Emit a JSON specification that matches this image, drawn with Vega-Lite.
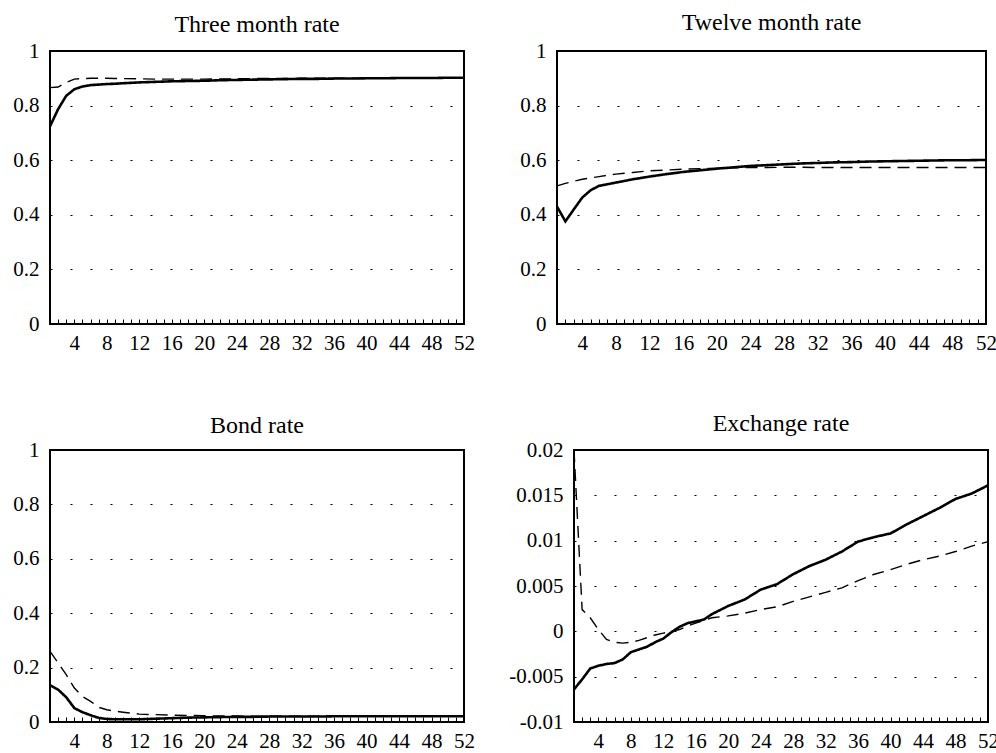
{
  "$schema": "https://vega.github.io/schema/vega-lite/v6.json",
  "padding": {"left": 11, "top": 10, "right": 0, "bottom": 0},
  "background": "white",
  "config": {
    "font": "Liberation Serif",
    "view": {"stroke": "black", "strokeWidth": 2},
    "axis": {"domain": false, "labelFont": "Liberation Serif", "labelFontSize": 21, "labelColor": "black", "labelFlush": false, "labelOverlap": false},
    "axisX": {"grid": false, "offset": -5, "tickSize": 5, "tickColor": "black", "tickWidth": 1, "labelPadding": 8, "zindex": 2},
    "axisY": {"ticks": false, "grid": true, "gridColor": "black", "gridDash": [2, 18], "gridWidth": 1, "labelPadding": 11},
    "title": {"font": "Liberation Serif", "fontSize": 24, "fontWeight": "normal", "color": "black", "frame": "group", "baseline": "alphabetic", "offset": 4}
  },
  "datasets": {
    "p1": [
      {"h": 1, "solid": 0.724, "dashed": 0.866},
      {"h": 2, "solid": 0.787, "dashed": 0.868},
      {"h": 3, "solid": 0.836, "dashed": 0.885},
      {"h": 4, "solid": 0.860, "dashed": 0.897},
      {"h": 5, "solid": 0.870, "dashed": 0.899},
      {"h": 6, "solid": 0.875, "dashed": 0.900},
      {"h": 7, "solid": 0.877, "dashed": 0.900},
      {"h": 8, "solid": 0.879, "dashed": 0.900},
      {"h": 9, "solid": 0.880, "dashed": 0.899},
      {"h": 10, "solid": 0.882, "dashed": 0.899},
      {"h": 12, "solid": 0.885, "dashed": 0.898},
      {"h": 14, "solid": 0.887, "dashed": 0.897},
      {"h": 16, "solid": 0.889, "dashed": 0.897},
      {"h": 18, "solid": 0.890, "dashed": 0.897},
      {"h": 20, "solid": 0.891, "dashed": 0.897},
      {"h": 22, "solid": 0.893, "dashed": 0.898},
      {"h": 24, "solid": 0.894, "dashed": 0.898},
      {"h": 26, "solid": 0.895, "dashed": 0.899},
      {"h": 28, "solid": 0.896, "dashed": 0.899},
      {"h": 30, "solid": 0.897, "dashed": 0.899},
      {"h": 32, "solid": 0.898, "dashed": 0.900},
      {"h": 34, "solid": 0.898, "dashed": 0.900},
      {"h": 36, "solid": 0.899, "dashed": 0.900},
      {"h": 38, "solid": 0.899, "dashed": 0.900},
      {"h": 40, "solid": 0.900, "dashed": 0.900},
      {"h": 42, "solid": 0.900, "dashed": 0.900},
      {"h": 44, "solid": 0.901, "dashed": 0.901},
      {"h": 46, "solid": 0.901, "dashed": 0.901},
      {"h": 48, "solid": 0.901, "dashed": 0.901},
      {"h": 50, "solid": 0.902, "dashed": 0.901},
      {"h": 52, "solid": 0.902, "dashed": 0.901}
    ],
    "p2": [
      {"h": 1, "solid": 0.430, "dashed": 0.506},
      {"h": 2, "solid": 0.376, "dashed": 0.515},
      {"h": 3, "solid": 0.420, "dashed": 0.523},
      {"h": 4, "solid": 0.463, "dashed": 0.530},
      {"h": 5, "solid": 0.490, "dashed": 0.535},
      {"h": 6, "solid": 0.506, "dashed": 0.540},
      {"h": 7, "solid": 0.512, "dashed": 0.545},
      {"h": 8, "solid": 0.518, "dashed": 0.549},
      {"h": 9, "solid": 0.524, "dashed": 0.552},
      {"h": 10, "solid": 0.530, "dashed": 0.555},
      {"h": 12, "solid": 0.540, "dashed": 0.561},
      {"h": 14, "solid": 0.549, "dashed": 0.564},
      {"h": 16, "solid": 0.557, "dashed": 0.567},
      {"h": 18, "solid": 0.563, "dashed": 0.569},
      {"h": 20, "solid": 0.569, "dashed": 0.570},
      {"h": 22, "solid": 0.574, "dashed": 0.572},
      {"h": 24, "solid": 0.579, "dashed": 0.573},
      {"h": 26, "solid": 0.582, "dashed": 0.573},
      {"h": 28, "solid": 0.585, "dashed": 0.574},
      {"h": 30, "solid": 0.588, "dashed": 0.574},
      {"h": 32, "solid": 0.590, "dashed": 0.573},
      {"h": 34, "solid": 0.592, "dashed": 0.573},
      {"h": 36, "solid": 0.593, "dashed": 0.573},
      {"h": 38, "solid": 0.595, "dashed": 0.573},
      {"h": 40, "solid": 0.596, "dashed": 0.573},
      {"h": 42, "solid": 0.597, "dashed": 0.573},
      {"h": 44, "solid": 0.598, "dashed": 0.573},
      {"h": 46, "solid": 0.599, "dashed": 0.573},
      {"h": 48, "solid": 0.600, "dashed": 0.573},
      {"h": 50, "solid": 0.600, "dashed": 0.573},
      {"h": 52, "solid": 0.601, "dashed": 0.573}
    ],
    "p3": [
      {"h": 1, "solid": 0.135, "dashed": 0.260},
      {"h": 2, "solid": 0.119, "dashed": 0.217},
      {"h": 3, "solid": 0.091, "dashed": 0.174},
      {"h": 4, "solid": 0.051, "dashed": 0.125},
      {"h": 5, "solid": 0.036, "dashed": 0.094},
      {"h": 6, "solid": 0.025, "dashed": 0.076},
      {"h": 7, "solid": 0.015, "dashed": 0.054},
      {"h": 8, "solid": 0.011, "dashed": 0.045},
      {"h": 9, "solid": 0.010, "dashed": 0.040},
      {"h": 10, "solid": 0.010, "dashed": 0.036},
      {"h": 12, "solid": 0.010, "dashed": 0.029},
      {"h": 14, "solid": 0.012, "dashed": 0.027},
      {"h": 16, "solid": 0.014, "dashed": 0.025},
      {"h": 18, "solid": 0.016, "dashed": 0.024},
      {"h": 20, "solid": 0.017, "dashed": 0.023},
      {"h": 22, "solid": 0.018, "dashed": 0.022},
      {"h": 24, "solid": 0.019, "dashed": 0.022},
      {"h": 26, "solid": 0.019, "dashed": 0.021},
      {"h": 28, "solid": 0.020, "dashed": 0.021},
      {"h": 30, "solid": 0.020, "dashed": 0.021},
      {"h": 32, "solid": 0.020, "dashed": 0.021},
      {"h": 34, "solid": 0.020, "dashed": 0.021},
      {"h": 36, "solid": 0.021, "dashed": 0.021},
      {"h": 38, "solid": 0.021, "dashed": 0.021},
      {"h": 40, "solid": 0.021, "dashed": 0.021},
      {"h": 42, "solid": 0.021, "dashed": 0.021},
      {"h": 44, "solid": 0.021, "dashed": 0.021},
      {"h": 46, "solid": 0.021, "dashed": 0.021},
      {"h": 48, "solid": 0.021, "dashed": 0.021},
      {"h": 50, "solid": 0.021, "dashed": 0.021},
      {"h": 52, "solid": 0.021, "dashed": 0.021}
    ],
    "p4": [
      {"h": 1, "solid": -0.0064, "dashed": 0.0200},
      {"h": 2, "solid": -0.0053, "dashed": 0.0024},
      {"h": 3, "solid": -0.0041, "dashed": 0.0015},
      {"h": 4, "solid": -0.0038, "dashed": 0.0002},
      {"h": 5, "solid": -0.0036, "dashed": -0.0009},
      {"h": 6, "solid": -0.0035, "dashed": -0.0012},
      {"h": 7, "solid": -0.0031, "dashed": -0.0013},
      {"h": 8, "solid": -0.0023, "dashed": -0.0012},
      {"h": 9, "solid": -0.0020, "dashed": -0.0010},
      {"h": 10, "solid": -0.0017, "dashed": -0.0007},
      {"h": 11, "solid": -0.0012, "dashed": -0.0004},
      {"h": 12, "solid": -0.0008, "dashed": -0.0002},
      {"h": 13, "solid": -0.0001, "dashed": 0.0000},
      {"h": 14, "solid": 0.0005, "dashed": 0.0002},
      {"h": 15, "solid": 0.0009, "dashed": 0.0006},
      {"h": 16, "solid": 0.0011, "dashed": 0.0009},
      {"h": 17, "solid": 0.0013, "dashed": 0.0012},
      {"h": 18, "solid": 0.0019, "dashed": 0.0015},
      {"h": 20, "solid": 0.0028, "dashed": 0.0017},
      {"h": 22, "solid": 0.0035, "dashed": 0.0020},
      {"h": 24, "solid": 0.0046, "dashed": 0.0024},
      {"h": 26, "solid": 0.0052, "dashed": 0.0027},
      {"h": 28, "solid": 0.0063, "dashed": 0.0033},
      {"h": 30, "solid": 0.0072, "dashed": 0.0038},
      {"h": 32, "solid": 0.0079, "dashed": 0.0043},
      {"h": 34, "solid": 0.0088, "dashed": 0.0048},
      {"h": 36, "solid": 0.0099, "dashed": 0.0056},
      {"h": 38, "solid": 0.0104, "dashed": 0.0063},
      {"h": 40, "solid": 0.0108, "dashed": 0.0068},
      {"h": 42, "solid": 0.0118, "dashed": 0.0074},
      {"h": 44, "solid": 0.0127, "dashed": 0.0079},
      {"h": 46, "solid": 0.0136, "dashed": 0.0083},
      {"h": 48, "solid": 0.0146, "dashed": 0.0088},
      {"h": 50, "solid": 0.0152, "dashed": 0.0094},
      {"h": 52, "solid": 0.0161, "dashed": 0.0099}
    ]
  },
  "spacing": 57,
  "vconcat": [
    {
      "spacing": 42,
      "hconcat": [
        {
          "title": {"text": "Three month rate", "offset": 3},
          "width": 414, "height": 273,
          "data": {"name": "p1"},
          "transform": [{"fold": ["solid", "dashed"], "as": ["series", "value"]}],
          "mark": {"type": "line", "color": "black"},
          "encoding": {
            "x": {"field": "h", "type": "quantitative", "scale": {"domain": [1, 52], "nice": false, "zero": false},
              "axis": {"title": null, "values": [1,2,3,4,5,6,7,8,9,10,11,12,13,14,15,16,17,18,19,20,21,22,23,24,25,26,27,28,29,30,31,32,33,34,35,36,37,38,39,40,41,42,43,44,45,46,47,48,49,50,51,52], "labelExpr": "datum.value % 4 == 0 ? datum.label : ''"}},
            "y": {"field": "value", "type": "quantitative", "scale": {"domain": [0, 1], "nice": false},
              "axis": {"title": null, "values": [0, 0.2, 0.4, 0.6, 0.8, 1], "labelExpr": "datum.value + ''"}},
            "strokeDash": {"field": "series", "type": "nominal", "scale": {"domain": ["solid", "dashed"], "range": [[1, 0], [12, 7]]}, "legend": null},
            "strokeWidth": {"field": "series", "type": "nominal", "scale": {"domain": ["solid", "dashed"], "range": [2.6, 1.4]}, "legend": null}
          }
        },
        {
          "title": {"text": "Twelve month rate", "offset": 5},
          "width": 429, "height": 273,
          "data": {"name": "p2"},
          "transform": [{"fold": ["solid", "dashed"], "as": ["series", "value"]}],
          "mark": {"type": "line", "color": "black"},
          "encoding": {
            "x": {"field": "h", "type": "quantitative", "scale": {"domain": [1, 52], "nice": false, "zero": false},
              "axis": {"title": null, "values": [1,2,3,4,5,6,7,8,9,10,11,12,13,14,15,16,17,18,19,20,21,22,23,24,25,26,27,28,29,30,31,32,33,34,35,36,37,38,39,40,41,42,43,44,45,46,47,48,49,50,51,52], "labelExpr": "datum.value % 4 == 0 ? datum.label : ''"}},
            "y": {"field": "value", "type": "quantitative", "scale": {"domain": [0, 1], "nice": false},
              "axis": {"title": null, "values": [0, 0.2, 0.4, 0.6, 0.8, 1], "labelExpr": "datum.value + ''"}},
            "strokeDash": {"field": "series", "type": "nominal", "scale": {"domain": ["solid", "dashed"], "range": [[1, 0], [12, 7]]}, "legend": null},
            "strokeWidth": {"field": "series", "type": "nominal", "scale": {"domain": ["solid", "dashed"], "range": [2.6, 1.4]}, "legend": null}
          }
        }
      ]
    },
    {
      "spacing": 31,
      "hconcat": [
        {
          "title": {"text": "Bond rate", "offset": 1},
          "width": 414, "height": 272,
          "data": {"name": "p3"},
          "transform": [{"fold": ["solid", "dashed"], "as": ["series", "value"]}],
          "mark": {"type": "line", "color": "black"},
          "encoding": {
            "x": {"field": "h", "type": "quantitative", "scale": {"domain": [1, 52], "nice": false, "zero": false},
              "axis": {"title": null, "values": [1,2,3,4,5,6,7,8,9,10,11,12,13,14,15,16,17,18,19,20,21,22,23,24,25,26,27,28,29,30,31,32,33,34,35,36,37,38,39,40,41,42,43,44,45,46,47,48,49,50,51,52], "labelExpr": "datum.value % 4 == 0 ? datum.label : ''"}},
            "y": {"field": "value", "type": "quantitative", "scale": {"domain": [0, 1], "nice": false},
              "axis": {"title": null, "values": [0, 0.2, 0.4, 0.6, 0.8, 1], "labelExpr": "datum.value + ''"}},
            "strokeDash": {"field": "series", "type": "nominal", "scale": {"domain": ["solid", "dashed"], "range": [[1, 0], [12, 7]]}, "legend": null},
            "strokeWidth": {"field": "series", "type": "nominal", "scale": {"domain": ["solid", "dashed"], "range": [2.6, 1.4]}, "legend": null}
          }
        },
        {
          "title": {"text": "Exchange rate", "offset": 3},
          "width": 414, "height": 272,
          "data": {"name": "p4"},
          "transform": [{"fold": ["solid", "dashed"], "as": ["series", "value"]}],
          "encoding": {
            "x": {"field": "h", "type": "quantitative", "scale": {"domain": [1, 52], "nice": false, "zero": false},
              "axis": {"title": null, "values": [1,2,3,4,5,6,7,8,9,10,11,12,13,14,15,16,17,18,19,20,21,22,23,24,25,26,27,28,29,30,31,32,33,34,35,36,37,38,39,40,41,42,43,44,45,46,47,48,49,50,51,52], "labelExpr": "datum.value % 4 == 0 ? datum.label : ''"}}
          },
          "layer": [
            {
              "mark": {"type": "line", "color": "black"},
              "encoding": {
                "y": {"field": "value", "type": "quantitative", "scale": {"domain": [-0.01, 0.02], "nice": false, "zero": false},
                  "axis": {"title": null, "values": [-0.01, -0.005, 0, 0.005, 0.01, 0.015, 0.02], "labelExpr": "datum.value + ''"}},
                "strokeDash": {"field": "series", "type": "nominal", "scale": {"domain": ["solid", "dashed"], "range": [[1, 0], [12, 7]]}, "legend": null},
                "strokeWidth": {"field": "series", "type": "nominal", "scale": {"domain": ["solid", "dashed"], "range": [2.6, 1.4]}, "legend": null}
              }
            },
            {
              "mark": {"type": "rule", "color": "black", "strokeWidth": 2},
              "encoding": {"y": {"datum": 0}}
            }
          ]
        }
      ]
    }
  ]
}
